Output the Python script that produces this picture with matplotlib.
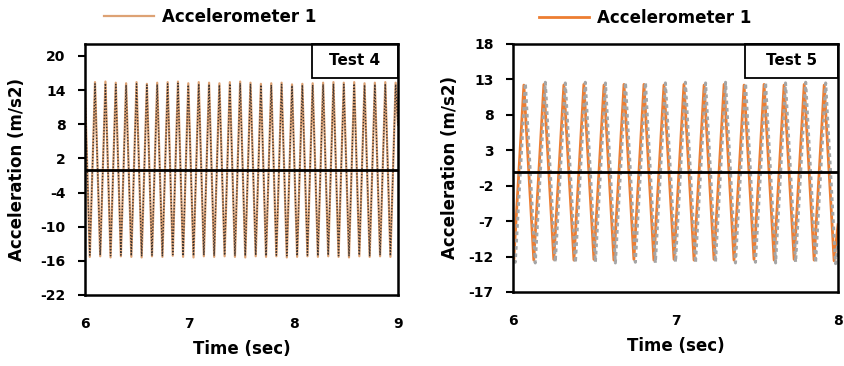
import matplotlib
matplotlib.use("Agg")
import matplotlib.pyplot as plt
from matplotlib.patches import Rectangle

# Test 4: peaks / troughs of the accelerometer trace
t4_time = [6.000, 6.046, 6.096, 6.146, 6.196, 6.245, 6.295, 6.344, 6.394, 6.444,
           6.494, 6.543, 6.593, 6.642, 6.692, 6.742, 6.792, 6.841, 6.891, 6.940,
           6.990, 7.040, 7.090, 7.139, 7.189, 7.238, 7.288, 7.338, 7.388, 7.437,
           7.487, 7.536, 7.586, 7.636, 7.686, 7.735, 7.785, 7.834, 7.884, 7.934,
           7.984, 8.033, 8.083, 8.132, 8.182, 8.232, 8.282, 8.331, 8.381, 8.430,
           8.480, 8.530, 8.580, 8.629, 8.679, 8.728, 8.778, 8.828, 8.878, 8.927,
           8.977, 9.000]
t4_acc1 = [14.0, -15.3, 15.4, -15.2, 15.5, -15.4, 15.3, -15.2, 15.2, -15.3,
           15.4, -15.4, 15.1, -15.2, 15.3, -15.3, 15.4, -15.1, 15.5, -15.3,
           15.2, -15.4, 15.4, -15.2, 15.3, -15.3, 15.2, -15.2, 15.4, -15.3,
           15.5, -15.4, 15.3, -15.2, 15.1, -15.3, 15.2, -15.2, 15.3, -15.4,
           15.0, -15.3, 15.1, -15.2, 15.2, -15.3, 15.3, -15.2, 15.4, -15.3,
           15.3, -15.4, 15.4, -15.2, 15.2, -15.3, 15.3, -15.2, 15.4, -15.3,
           15.3, 8.0]
t4_acc2 = [13.6, -15.0, 15.1, -15.0, 15.2, -15.1, 15.0, -15.0, 14.9, -15.1,
           15.1, -15.1, 14.9, -15.0, 15.0, -15.1, 15.1, -14.9, 15.2, -15.1,
           14.9, -15.1, 15.1, -15.0, 15.0, -15.1, 14.9, -15.0, 15.1, -15.1,
           15.2, -15.1, 15.0, -15.0, 14.9, -15.1, 14.9, -15.0, 15.0, -15.1,
           14.8, -15.1, 14.9, -15.0, 14.9, -15.1, 15.0, -15.0, 15.1, -15.1,
           15.0, -15.1, 15.1, -15.0, 14.9, -15.1, 15.0, -15.0, 15.1, -15.1,
           15.0, 7.6]

# Test 5
t5_time1 = [6.000, 6.005, 6.067, 6.128, 6.190, 6.251, 6.313, 6.375, 6.436, 6.498,
            6.560, 6.621, 6.683, 6.744, 6.806, 6.867, 6.929, 6.991, 7.052, 7.114,
            7.176, 7.237, 7.299, 7.360, 7.422, 7.483, 7.545, 7.607, 7.668, 7.730,
            7.792, 7.853, 7.915, 7.976, 8.000]
t5_acc1 = [-10.5, -12.4, 12.2, -12.5, 12.3, -12.4, 12.2, -12.5, 12.3, -12.4,
           12.2, -12.5, 12.3, -12.4, 12.3, -12.5, 12.2, -12.4, 12.3, -12.5,
           12.2, -12.4, 12.3, -12.5, 12.2, -12.4, 12.3, -12.5, 12.2, -12.4,
           12.3, -12.5, 12.2, -12.6, -7.5]
t5_time2 = [6.000, 6.014, 6.076, 6.137, 6.199, 6.260, 6.322, 6.384, 6.445, 6.507,
            6.569, 6.630, 6.692, 6.753, 6.815, 6.876, 6.938, 7.000, 7.061, 7.123,
            7.185, 7.246, 7.308, 7.369, 7.431, 7.492, 7.554, 7.616, 7.677, 7.739,
            7.801, 7.862, 7.924, 7.985, 8.000]
t5_acc2 = [-11.5, -12.8, 12.5, -12.9, 12.6, -12.8, 12.5, -12.9, 12.6, -12.8,
           12.5, -12.9, 12.6, -12.8, 12.6, -12.9, 12.5, -12.8, 12.6, -12.9,
           12.5, -12.8, 12.6, -12.9, 12.5, -12.8, 12.6, -12.9, 12.5, -12.8,
           12.6, -12.9, 12.5, -13.0, -10.0]

t4_yticks = [-22, -16, -10, -4, 2, 8, 14, 20]
t5_yticks = [-17, -12, -7, -2, 3, 8, 13, 18]
baseline = 0

plt.rcParams['font.family'] = ['DejaVu Sans']
plt.rcParams['font.weight'] = 'bold'
plt.rcParams['axes.unicode_minus'] = False

fig = plt.figure(figsize=(8.44, 3.66), dpi=100)
ax1 = fig.add_axes([0.1007, 0.194, 0.3709, 0.6858])
ax2 = fig.add_axes([0.6078, 0.2022, 0.3851, 0.6776])


def style_axes(ax, label, xlim, ylim, yticks, xticks, legend_xy, box):
    ax.axhline(baseline, color='black', linewidth=2, zorder=4)
    ax.set_xlim(*xlim)
    ax.set_ylim(*ylim)
    ax.set_yticks(yticks)
    ax.set_xticks(xticks)
    ax.set_xticklabels([str(x) for x in xticks])
    for s in ax.spines.values():
        s.set_linewidth(1.8)
        s.set_color('black')
        s.set_zorder(7)
    ax.tick_params(axis='y', direction='out', length=5, width=1.5, pad=9,
                   labelsize=10)
    ax.tick_params(axis='x', length=0, pad=16, labelsize=10)
    ax.set_xlabel('Time (sec)', fontsize=12, fontweight='bold', labelpad=6)
    ax.set_ylabel('Acceleration (m/s2)', fontsize=12, fontweight='bold')
    x0, y0, w, h = box
    ax.add_patch(Rectangle((x0, y0), w, h, transform=ax.transAxes,
                           facecolor='white', edgecolor='black', linewidth=1.3,
                           zorder=6, clip_on=False))
    ax.text(x0 + w / 2, y0 + h / 2, label, transform=ax.transAxes,
            ha='center', va='center', fontsize=11, fontweight='bold', zorder=7)
    leg = ax.legend(loc='center', bbox_to_anchor=legend_xy, frameon=False,
                    fontsize=12, handlelength=3.0, handletextpad=0.45)
    for txt in leg.get_texts():
        txt.set_fontweight('bold')


ax1.plot(t4_time, t4_acc1, color='#DDA274', linewidth=1.6, label='Accelerometer 1')
ax1.plot(t4_time, t4_acc2, color='#3a3330', linewidth=1.0, linestyle=(0, (1, 1.2)))
style_axes(ax1, 'Test 4', (6, 9), (-22, 22.1), t4_yticks, [6, 7, 8, 9],
           (0.40, 1.108), (0.725, 0.865, 0.275, 0.135))
ax1.yaxis.set_label_coords(-0.19, 0.5)

ax2.plot(t5_time1, t5_acc1, color='#ED7D31', linewidth=2.0, label='Accelerometer 1')
ax2.plot(t5_time2, t5_acc2, color='#A5A5A5', linewidth=2.2, linestyle=(0, (1.2, 1.2)))
style_axes(ax2, 'Test 5', (6, 8), (-17, 18), t5_yticks, [6, 7, 8],
           (0.406, 1.105), (0.714, 0.863, 0.286, 0.137))
ax2.yaxis.set_label_coords(-0.166, 0.5)

fig.savefig('out.png', dpi=100)
